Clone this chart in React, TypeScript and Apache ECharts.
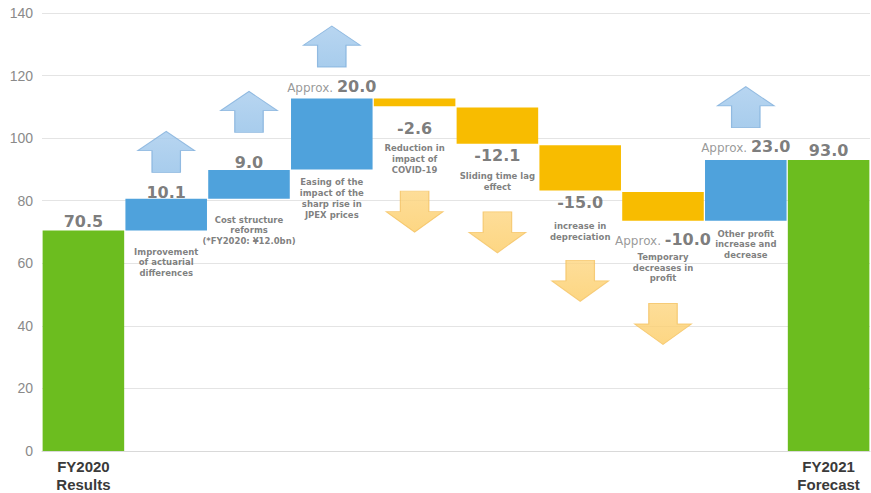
import React, { useEffect, useRef } from "react";
import * as echarts from "echarts";

const categories = [
  "FY2020\nResults", "", "", "", "", "", "", "", "", "FY2021\nForecast",
];
// bar extents (bottom / top of each floating bar)
const lows = [0, 70.5, 80.6, 90.0, 110.2, 98.2, 83.3, 73.6, 73.6, 0];
const highs = [70.5, 80.6, 89.8, 112.7, 112.7, 109.8, 97.7, 82.8, 93.0, 93.0];
const kinds = ["total", "up", "up", "up", "down", "down", "down", "down", "up", "total"];

// printed values
const printedValues = [70.5, 10.1, 9.0, 20.0, -2.6, -12.1, -15.0, -10.0, 23.0, 93.0];
const approxFlags = [false, false, false, true, false, false, false, true, true, false];
const valueLabelY = [74.0, 83.4, 92.8, 117.0, 103.6, 95.2, 80.1, 68.2, 97.9, 96.6];

const descriptions = [
  "",
  "Improvement\nof actuarial\ndifferences",
  "Cost structure\nreforms\n(*FY2020: ¥12.0bn)",
  "Easing of the\nimpact of the\nsharp rise in\nJPEX prices",
  "Reduction in\nimpact of\nCOVID-19",
  "Sliding time lag\neffect",
  "increase in\ndepreciation",
  "Temporary\ndecreases in\nprofit",
  "Other profit\nincrease and\ndecrease",
  "",
];
const descriptionY = [0, 60.3, 70.5, 80.7, 93.3, 86.2, 70.2, 58.6, 66.1, 0];

// decorative arrows: [category index, centre value]
const upArrows = [[1, 95.6], [2, 108.4], [3, 129.3], [8, 109.9]];
const downArrows = [[4, 76.5], [5, 69.9], [6, 54.4], [7, 40.6]];

const yTicks = { min: 0, max: 140, interval: 20 };

const COLORS: Record<string, string> = {
  total: "#6cbd1f",
  up: "#4fa2dc",
  down: "#f8bc00",
};

const UP_PATH = "path://M50,0 L100,47 L75,47 L75,100 L25,100 L25,47 L0,47 Z";
const DOWN_PATH = "path://M25,0 L75,0 L75,50 L100,50 L50,100 L0,50 L25,50 Z";

export default function App() {
  const ref = useRef<HTMLDivElement>(null);
  useEffect(() => {
    if (!ref.current) return;
    const chart = echarts.init(ref.current, null, { renderer: "svg" });
    const font = "DejaVu Sans";
    chart.setOption({
      animation: false,
      backgroundColor: "#ffffff",
      grid: { left: 42, right: 1, top: 13, bottom: 42, containLabel: false, outerBoundsMode: "none" },
      xAxis: {
        type: "category",
        data: categories,
        axisTick: { show: false },
        axisLine: { show: true, lineStyle: { color: "#d9d9d9", width: 1 } },
        axisLabel: {
          interval: 0,
          margin: 6,
          color: "#3a3a3a",
          fontFamily: "Liberation Sans",
          fontWeight: "bold",
          fontSize: 15,
          lineHeight: 18,
        },
      },
      yAxis: {
        type: "value",
        min: yTicks.min,
        max: yTicks.max,
        interval: yTicks.interval,
        axisLine: { show: false },
        axisTick: { show: false },
        axisLabel: { color: "#8a8a8a", fontFamily: "Liberation Sans", fontSize: 14, margin: 9 },
        splitLine: { lineStyle: { color: "#e4e4e4", width: 1 } },
      },
      series: [
        {
          type: "bar",
          stack: "w",
          barCategoryGap: "1.5%",
          silent: true,
          itemStyle: { color: "transparent" },
          data: lows,
        },
        {
          type: "bar",
          stack: "w",
          barCategoryGap: "1.5%",
          data: highs.map((h, i) => ({
            value: +(h - lows[i]).toFixed(2),
            itemStyle: { color: COLORS[kinds[i]] },
          })),
        },
        {
          type: "scatter",
          symbol: UP_PATH,
          symbolSize: [57, 41],
          z: 1,
          itemStyle: {
            color: new echarts.graphic.LinearGradient(0, 0, 0, 1, [
              { offset: 0, color: "#a6cbed" },
              { offset: 1, color: "#92c0e8" },
            ]),
            borderColor: "#7eaedb",
            borderWidth: 1,
          },
          data: upArrows,
        },
        {
          type: "scatter",
          symbol: DOWN_PATH,
          symbolSize: [57, 41],
          z: 1,
          itemStyle: {
            color: new echarts.graphic.LinearGradient(0, 0, 0, 1, [
              { offset: 0, color: "#fdd57f" },
              { offset: 1, color: "#fccc64" },
            ]),
            borderColor: "#f4c262",
            borderWidth: 1,
          },
          data: downArrows,
        },
        {
          type: "scatter",
          symbolSize: 0,
          z: 5,
          itemStyle: { color: "transparent" },
          label: {
            show: true,
            position: "inside",
            formatter: (p: any) => p.name,
            rich: {
              a: {
                fontFamily: font,
                fontSize: 12,
                color: "#808080",
                verticalAlign: "bottom",
                lineHeight: 20,
                padding: [0, 0, 1, 0],
              },
              b: {
                fontFamily: font,
                fontSize: 16,
                fontWeight: "bold",
                color: "#5a5a5a",
                verticalAlign: "bottom",
                lineHeight: 20,
              },
            },
          },
          data: printedValues.map((v, i) => ({
            name: (approxFlags[i] ? "{a|Approx.}{a| }" : "") + "{b|" + v.toFixed(1) + "}",
            value: [i, valueLabelY[i]],
          })),
        },
        {
          type: "scatter",
          symbolSize: 0,
          z: 5,
          itemStyle: { color: "transparent" },
          label: {
            show: true,
            position: "inside",
            formatter: (p: any) => p.name,
            fontFamily: font,
            fontSize: 8.5,
            fontWeight: "bold",
            lineHeight: 10.7,
            color: "#5e5e5e",
            align: "center",
          },
          data: descriptions
            .map((d, i) => ({ name: d, value: [i, descriptionY[i]] }))
            .filter((d) => d.name !== ""),
        },
      ],
    });
    return () => chart.dispose();
  }, []);
  return (
    <div
      ref={ref}
      style={{ position: "fixed", left: 0, top: 0, width: 871, height: 493 }}
    />
  );
}
